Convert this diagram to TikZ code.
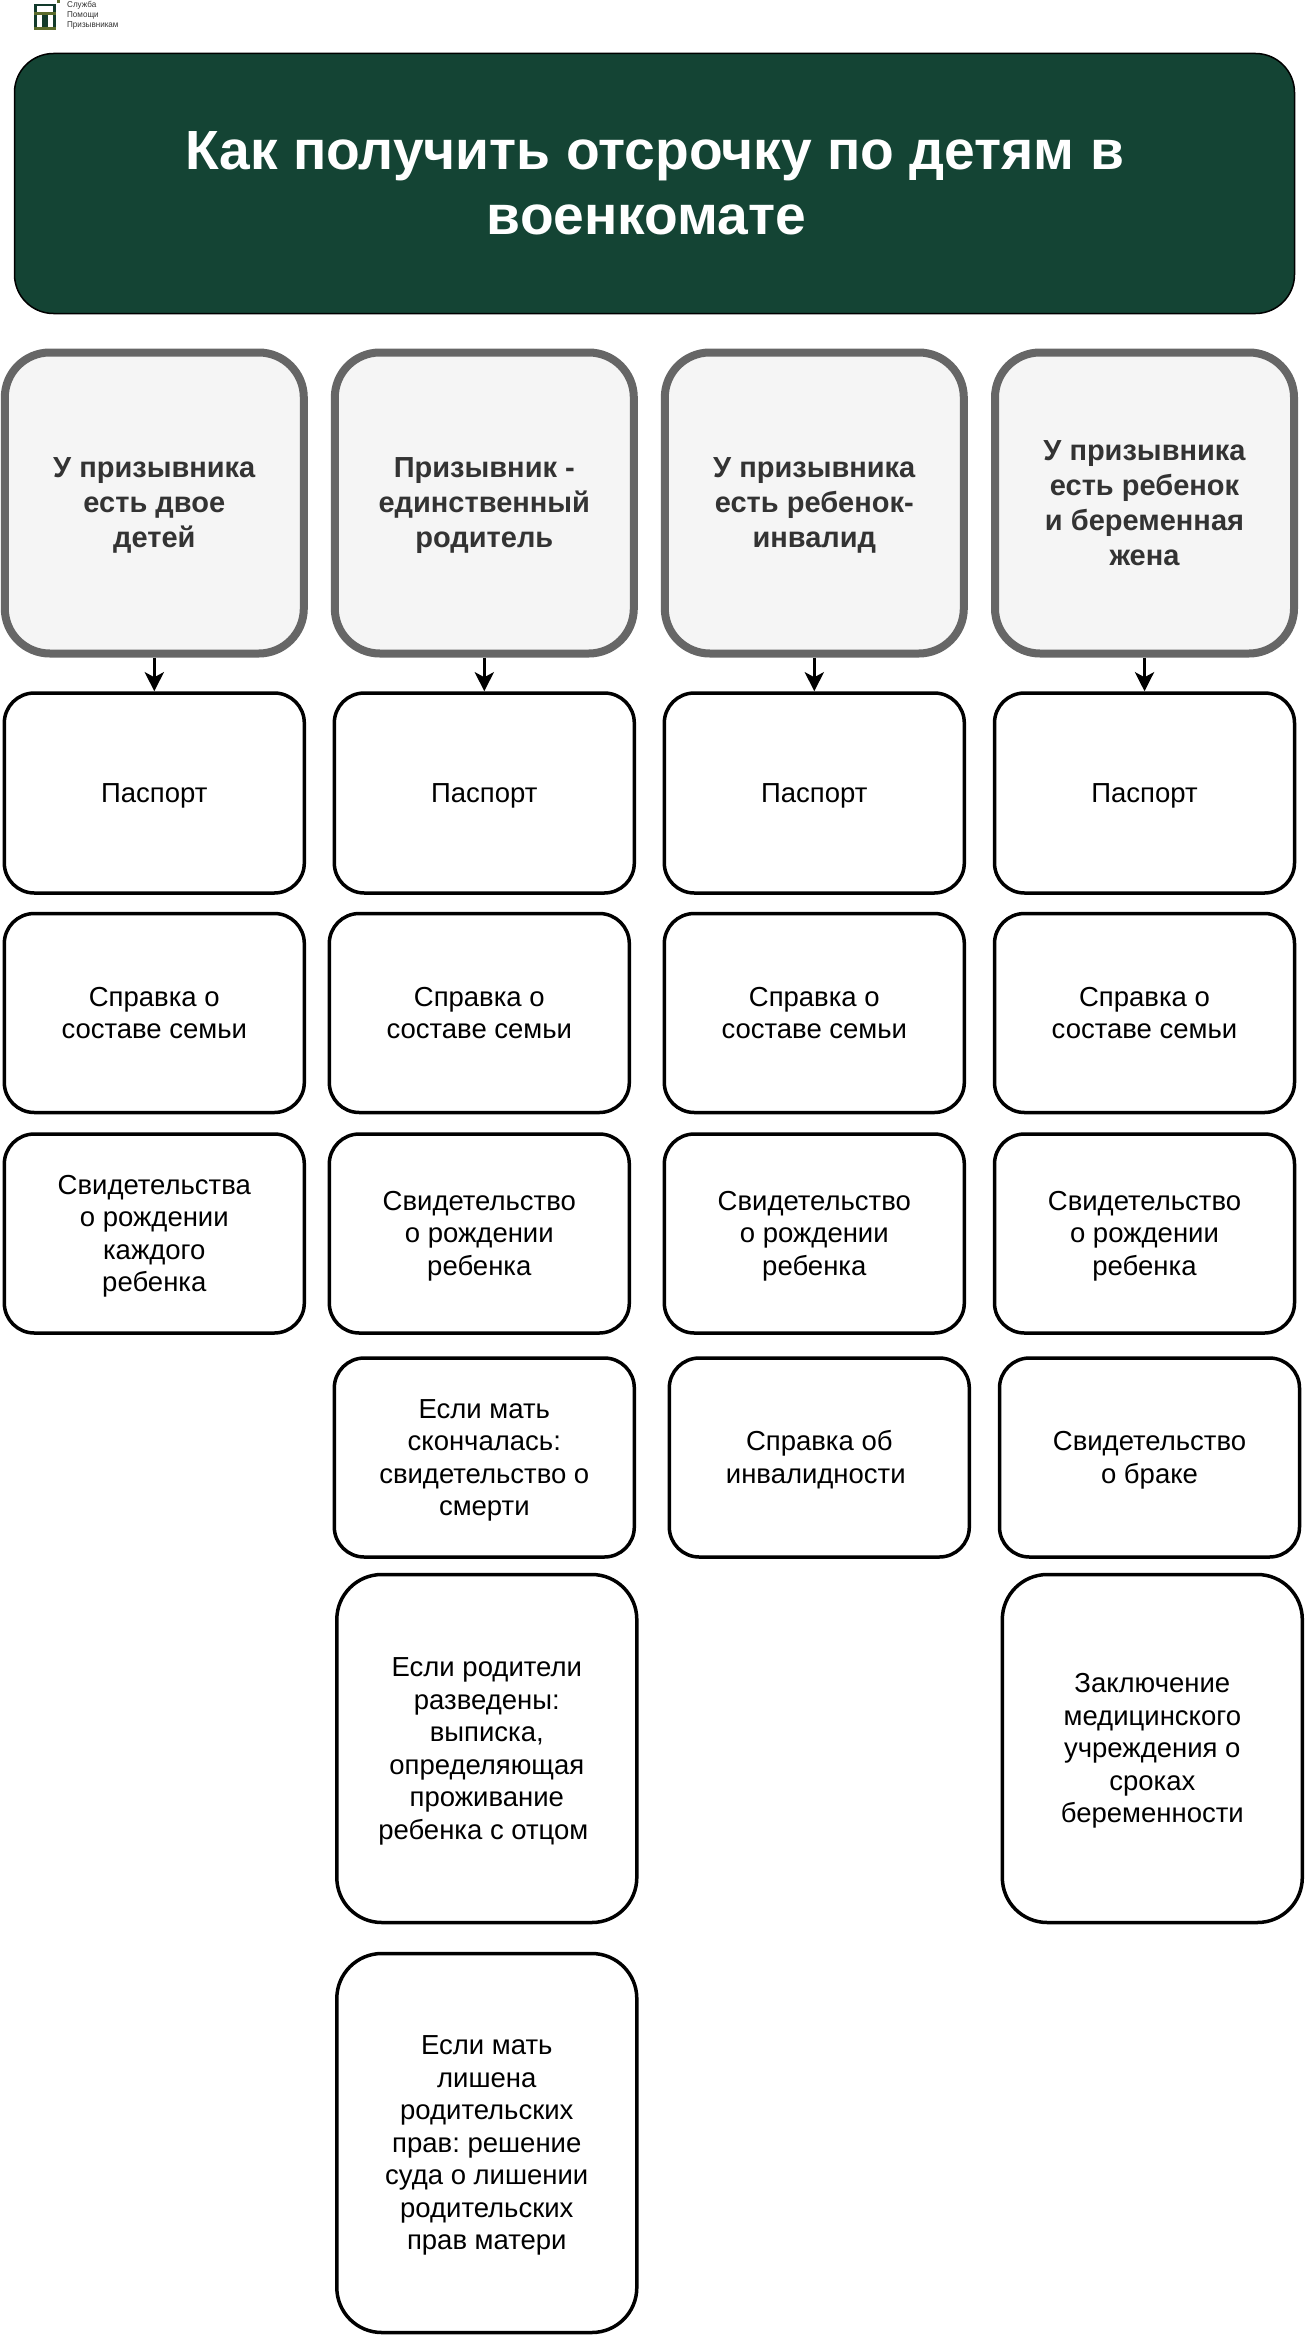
\documentclass[tikz,border=0pt]{standalone}
\usepackage{fontspec}
\setmainfont{Liberation Sans}
\usetikzlibrary{arrows.meta}
\definecolor{titlegreen}{HTML}{144434}
\definecolor{logoolive}{HTML}{5B6B2B}
\definecolor{logodark}{HTML}{123A2B}
\colorlet{headgray}{black!60}
\definecolor{headfill}{HTML}{F5F5F5}
\definecolor{headtext}{HTML}{333333}
\newcommand\lineboxed[1]{\rule{0pt}{.93em}#1\rule[-.25em]{0pt}{.25em}}
\tikzset{
  box/.style={draw=black,fill=white,line width=3.5pt,minimum width=300pt,minimum height=199pt,
    rounded corners=30pt,align=center,inner sep=0pt,font=\fontsize{27.5}{32.5}\selectfont\frenchspacing},
  bigbox/.style={box,rounded corners=45pt},
  headbox/.style={draw=headgray,fill=headfill,line width=8pt,minimum width=299pt,minimum height=301pt,
    rounded corners=45pt,align=center,inner sep=0pt,text=headtext,font=\fontsize{29}{35}\selectfont\bfseries},
  titlebox/.style={draw=black,fill=titlegreen,line width=1.5pt,minimum width=1280pt,minimum height=260pt,
    rounded corners=39pt,align=center,inner sep=0pt,text=white,font=\fontsize{55.2}{65}\selectfont\bfseries},
  link/.style={line width=3.6pt,-{Stealth[length=19pt,width=19pt,inset=5pt]}},
  logotext/.style={anchor=west,inner sep=0pt,xscale=0.95,font=\fontsize{8.5}{10}\selectfont,text=black!80},
}
\begin{document}
\begin{tikzpicture}[x=1pt,y=-1pt]
\useasboundingbox (0,0) rectangle (1304,2336);
% logo
\fill[logodark] (34,4) rectangle (56,30);
\fill[white] (37,6) rectangle (53,12);
\fill[logoolive] (34,12) rectangle (56,15);
\fill[white] (37,15) rectangle (42,27);
\fill[white] (48,15) rectangle (53,27);
\fill[logoolive] (34,27) rectangle (56,30);
\fill[logoolive] (57,0) rectangle (60,3);
\node[logotext] (logoa) at (67,5) {Служба};
\node[logotext] (logob) at (67,15) {Помощи};
\node[logotext] (logoc) at (67,25) {Призывникам};
% title
\node[titlebox] (title) at (654.5,183.5) {\lineboxed{Как получить отсрочку по детям в\\военкомате\hspace*{16pt}}};
% headers
\node[headbox] (h1) at (154.3,503) {\lineboxed{У призывника\\есть двое\\детей}};
\node[headbox] (h2) at (484.3,503) {\lineboxed{Призывник -\\единственный\\родитель}};
\node[headbox] (h3) at (814.3,503) {\lineboxed{У призывника\\есть ребенок-\\инвалид}};
\node[headbox] (h4) at (1144.5,503) {\lineboxed{У призывника\\есть ребенок\\и беременная\\жена}};
% passports
\node[box,minimum height=200pt] (p1) at (154.3,793) {\lineboxed{Паспорт}};
\node[box,minimum height=200pt] (p2) at (484.3,793) {\lineboxed{Паспорт}};
\node[box,minimum height=200pt] (p3) at (814.3,793) {\lineboxed{Паспорт}};
\node[box,minimum height=200pt] (p4) at (1144.5,793) {\lineboxed{Паспорт}};
% family
\node[box] (f1) at (154.3,1013) {\lineboxed{Справка о\\составе семьи}};
\node[box] (f2) at (479.3,1013) {\lineboxed{Справка о\\составе семьи}};
\node[box] (f3) at (814.3,1013) {\lineboxed{Справка о\\составе семьи}};
\node[box] (f4) at (1144.5,1013) {\lineboxed{Справка о\\составе семьи}};
% birth
\node[box] (b1) at (154.3,1233.5) {\lineboxed{Свидетельства\\о рождении\\каждого\\ребенка}};
\node[box] (b2) at (479.3,1233.5) {\lineboxed{Свидетельство\\о рождении\\ребенка}};
\node[box] (b3) at (814.3,1233.5) {\lineboxed{Свидетельство\\о рождении\\ребенка}};
\node[box] (b4) at (1144.5,1233.5) {\lineboxed{Свидетельство\\о рождении\\ребенка}};
% row 4
\node[box] (d2) at (484.3,1457.5) {\lineboxed{Если мать\\скончалась:\\свидетельство о\\смерти}};
\node[box] (d3) at (819.3,1457.5) {\lineboxed{Справка об\\инвалидности\hspace*{7pt}}};
\node[box] (d4) at (1149.5,1457.5) {\lineboxed{Свидетельство\\о браке}};
% row 5
\node[bigbox,minimum height=348pt] (e2) at (486.8,1748.5) {\lineboxed{Если родители\\разведены:\\выписка,\\определяющая\\проживание\\ребенка с отцом\hspace*{7pt}}};
\node[bigbox,minimum height=348pt] (e4) at (1152.3,1748.5) {\lineboxed{Заключение\\медицинского\\учреждения о\\сроках\\беременности}};
% row 6
\node[bigbox,minimum height=379pt] (g2) at (486.8,2143) {\lineboxed{Если мать\\лишена\\родительских\\прав: решение\\суда о лишении\\родительских\\прав матери}};
% links
\draw[link] (h1.south) -- (p1.north);
\draw[link] (h2.south) -- (p2.north);
\draw[link] (h3.south) -- (p3.north);
\draw[link] (h4.south) -- (p4.north);
\end{tikzpicture}
\end{document}
